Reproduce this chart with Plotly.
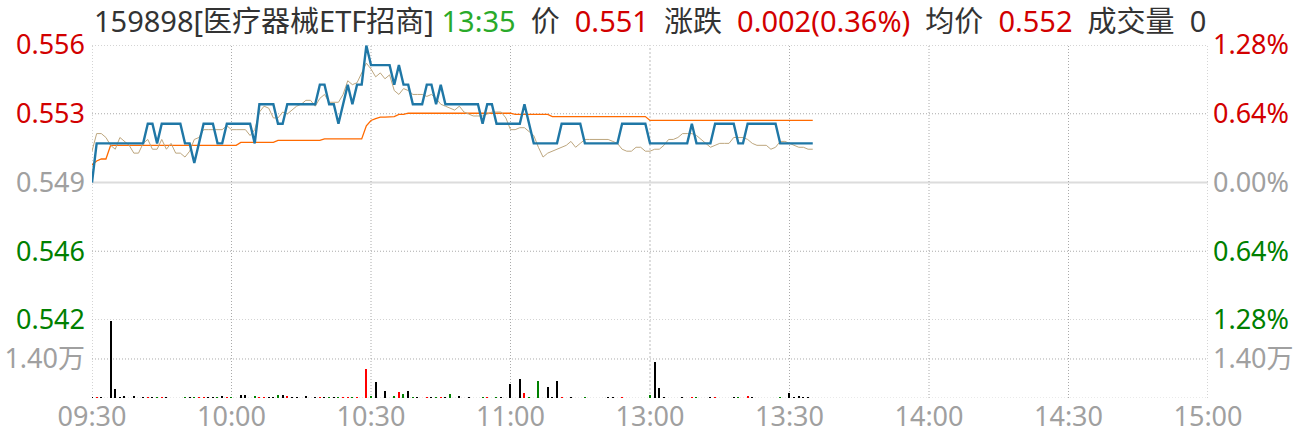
import plotly.graph_objects as go

# ---------------- data ----------------
prev_close = 0.549

time_ticks = [0, 30, 60, 90, 120, 150, 180, 210, 240]
time_labels = ['09:30', '10:00', '10:30', '11:00', '13:00', '13:30', '14:00', '14:30', '15:00']
session_break = 120

price = [
    0.549, 0.551, 0.551, 0.551, 0.551, 0.551, 0.551, 0.551, 0.551, 0.551,
    0.551, 0.551, 0.552, 0.552, 0.551, 0.552, 0.552, 0.552, 0.552, 0.552,
    0.551, 0.551, 0.550, 0.551, 0.552, 0.552, 0.552, 0.551, 0.551, 0.552,
    0.552, 0.552, 0.552, 0.552, 0.552, 0.551, 0.553, 0.553, 0.553, 0.553,
    0.552, 0.552, 0.553, 0.553, 0.553, 0.553, 0.553, 0.553, 0.553, 0.554,
    0.554, 0.553, 0.553, 0.552, 0.553, 0.554, 0.553, 0.554, 0.554, 0.556,
    0.555, 0.555, 0.555, 0.555, 0.555, 0.554, 0.555, 0.554, 0.554, 0.553,
    0.553, 0.553, 0.554, 0.554, 0.553, 0.554, 0.553, 0.553, 0.553, 0.553,
    0.553, 0.553, 0.553, 0.553, 0.552, 0.553, 0.553, 0.552, 0.552, 0.552,
    0.552, 0.552, 0.552, 0.553, 0.552, 0.551, 0.551, 0.551, 0.551, 0.551,
    0.551, 0.552, 0.552, 0.552, 0.552, 0.552, 0.551, 0.551, 0.551, 0.551,
    0.551, 0.551, 0.551, 0.551, 0.552, 0.552, 0.552, 0.552, 0.552, 0.552,
    0.551, 0.551, 0.551, 0.551, 0.551, 0.551, 0.551, 0.551, 0.551, 0.552,
    0.551, 0.551, 0.551, 0.551, 0.552, 0.552, 0.552, 0.552, 0.552, 0.551,
    0.551, 0.552, 0.552, 0.552, 0.552, 0.552, 0.552, 0.552, 0.551, 0.551,
    0.551, 0.551, 0.551, 0.551, 0.551, 0.551,
]

iopv = [
    0.5506, 0.5515, 0.5515, 0.5513, 0.5509, 0.5507, 0.5513, 0.5511, 0.5509, 0.5505,
    0.5505, 0.5510, 0.5512, 0.5507, 0.5507, 0.5512, 0.5507, 0.5510, 0.5505, 0.5505,
    0.5503, 0.5506, 0.5512, 0.5513, 0.5517, 0.5517, 0.5517, 0.5517, 0.5517, 0.5519,
    0.5517, 0.5517, 0.5517, 0.5517, 0.5514, 0.5517, 0.5526, 0.5529, 0.5528, 0.5523,
    0.5523, 0.5526, 0.5525, 0.5527, 0.5529, 0.5530, 0.5532, 0.5532, 0.5529, 0.5533,
    0.5535, 0.5531, 0.5531, 0.5531, 0.5535, 0.5542, 0.5540, 0.5541, 0.5546, 0.5551,
    0.5548, 0.5544, 0.5546, 0.5543, 0.5545, 0.5537, 0.5535, 0.5538, 0.5537, 0.5535,
    0.5535, 0.5535, 0.5534, 0.5535, 0.5533, 0.5530, 0.5529, 0.5528, 0.5527, 0.5529,
    0.5526, 0.5525, 0.5524, 0.5524, 0.5524, 0.5525, 0.5526, 0.5526, 0.5526, 0.5523,
    0.5517, 0.5517, 0.5518, 0.5518, 0.5516, 0.5514, 0.5508, 0.5503, 0.5505, 0.5506,
    0.5507, 0.5508, 0.5509, 0.5511, 0.5508, 0.5510, 0.5512, 0.5512, 0.5512, 0.5512,
    0.5512, 0.5512, 0.5511, 0.5510, 0.5507, 0.5506, 0.5506, 0.5508, 0.5508, 0.5506,
    0.5506, 0.5507, 0.5507, 0.5509, 0.5512, 0.5512, 0.5513, 0.5515, 0.5515, 0.5515,
    0.5514, 0.5512, 0.5510, 0.5508, 0.5509, 0.5510, 0.5510, 0.5510, 0.5513, 0.5513,
    0.5513, 0.5512, 0.5510, 0.5509, 0.5509, 0.5509, 0.5507, 0.5508, 0.5511, 0.5511,
    0.5510, 0.5509, 0.5508, 0.5508, 0.5507, 0.5507,
]

avg_price = [
    0.5499, 0.5501, 0.5502, 0.5502, 0.5509, 0.5509, 0.5509, 0.5509, 0.5509, 0.5509,
    0.5509, 0.5509, 0.5509, 0.5509, 0.5509, 0.5509, 0.5509, 0.5509, 0.5509, 0.5509,
    0.5509, 0.5509, 0.5509, 0.5509, 0.5509, 0.5509, 0.5509, 0.5509, 0.5509, 0.5509,
    0.5509, 0.5509, 0.55105, 0.55105, 0.55105, 0.55105, 0.55105, 0.55105, 0.55105, 0.55105,
    0.55115, 0.55115, 0.55115, 0.55115, 0.55115, 0.55115, 0.55115, 0.55115, 0.55115, 0.55115,
    0.55123, 0.55123, 0.55123, 0.55123, 0.55123, 0.55123, 0.55123, 0.55123, 0.55123, 0.5519,
    0.55217, 0.55226, 0.55234, 0.55234, 0.55234, 0.55237, 0.55248, 0.55248, 0.55254, 0.55254,
    0.55254, 0.55254, 0.55254, 0.55254, 0.55254, 0.55254, 0.55254, 0.55254, 0.55254, 0.55254,
    0.55254, 0.55254, 0.55254, 0.55254, 0.55254, 0.55254, 0.55254, 0.55254, 0.55254, 0.55254,
    0.55254, 0.55248, 0.55248, 0.55248, 0.55248, 0.55248, 0.55248, 0.55248, 0.55248, 0.55237,
    0.55237, 0.55237, 0.55237, 0.55237, 0.55237, 0.55237, 0.55237, 0.55237, 0.55237, 0.55237,
    0.55237, 0.55237, 0.55237, 0.55237, 0.55237, 0.55237, 0.55237, 0.55237, 0.55237, 0.55237,
    0.55217, 0.55217, 0.55217, 0.55217, 0.55217, 0.55217, 0.55217, 0.55217, 0.55217, 0.55217,
    0.55217, 0.55217, 0.55217, 0.55217, 0.55217, 0.55217, 0.55217, 0.55217, 0.55217, 0.55217,
    0.55217, 0.55217, 0.55217, 0.55217, 0.55217, 0.55217, 0.55217, 0.55217, 0.55217, 0.55217,
    0.55217, 0.55217, 0.55217, 0.55217, 0.55217, 0.55217,
]

volume = [
    250, 250, 250, 0, 27700, 3100, 250, 600, 0, 600,
    0, 250, 250, 250, 250, 250, 250, 0, 0, 0,
    250, 250, 250, 250, 250, 250, 250, 250, 600, 250,
    250, 0, 960, 960, 0, 600, 250, 250, 250, 250,
    960, 960, 600, 250, 250, 0, 600, 0, 250, 250,
    250, 250, 250, 250, 250, 250, 250, 250, 0, 10400,
    600, 5700, 0, 2400, 0, 600, 2050, 1330, 2400, 250,
    250, 0, 250, 250, 250, 250, 250, 1330, 0, 600,
    0, 250, 0, 0, 250, 250, 0, 250, 250, 0,
    4900, 0, 6750, 1700, 250, 0, 6000, 0, 3850, 250,
    6000, 250, 0, 250, 0, 0, 250, 0, 0, 0,
    0, 250, 250, 0, 250, 0, 0, 0, 0, 0,
    960, 12900, 3500, 250, 0, 0, 0, 250, 0, 250,
    250, 0, 0, 250, 250, 0, 0, 0, 250, 250,
    0, 720, 250, 0, 0, 0, 0, 0, 250, 0,
    1700, 250, 720, 250, 250, 0,
]

# trade direction per minute: 1 up, -1 down, 0 unchanged
direction = [
    0, 1, 0, 0, 0, 0, 0, 0, 0, 0,
    0, 0, 1, 0, -1, 1, 0, 0, 0, 0,
    -1, 0, -1, 1, 1, 0, 0, -1, 0, 1,
    -1, 0, 0, 0, 0, -1, 1, 1, 0, 0,
    -1, 0, 1, 0, 0, 0, 0, 0, 0, 1,
    0, -1, 0, -1, 1, 1, -1, 1, 0, 1,
    -1, 0, 0, 0, 0, -1, 1, -1, 0, -1,
    0, 0, 1, 0, -1, 1, 0, -1, 0, 0,
    0, 0, 0, 0, -1, 1, 0, -1, 0, 0,
    0, 0, 0, 1, -1, -1, -1, 0, 0, 0,
    0, 1, 0, 0, 0, 0, -1, 0, 0, 0,
    0, 0, 0, 0, 1, 0, 0, 0, 0, 0,
    -1, 0, 0, 0, 0, 0, 0, 0, 0, 1,
    -1, 0, 0, 0, 1, 0, 0, 0, 0, -1,
    0, 1, 0, 0, 0, 0, 0, 0, -1, 0,
    0, 0, 0, 0, 0, 0,
]

pct_levels = [-1.28, -0.64, 0.0, 0.64, 1.28]
left_labels = ['0.542', '0.546', '0.549', '0.553', '0.556']
right_labels = ['1.28%', '0.64%', '0.00%', '0.64%', '1.28%']
vol_max = 28000
vol_ticks = [14000]
vol_labels = ['1.40万']

minutes = list(range(len(price)))

# ---------------- styling ----------------
FONT = 'Noto Sans, Noto Sans CJK SC, sans-serif'
RED = '#d20000'
GREEN = '#008000'
GRAY = '#a0a0a0'
GRID = '#aaaaaa'

def level_color(p):
    return RED if p > 0 else (GREEN if p < 0 else GRAY)

price_ticks = [prev_close * (1 + p / 100) for p in pct_levels]
left_text = ['<span style="color:%s">%s</span>' % (level_color(p), t) for p, t in zip(pct_levels, left_labels)]
right_text = ['<span style="color:%s">%s</span>' % (level_color(p), t) for p, t in zip(pct_levels, right_labels)]
yrange = [prev_close * (1 - pct_levels[-1] / 100), prev_close * (1 + pct_levels[-1] / 100)]

bar_colors = ['#ff0000' if d > 0 else ('#008000' if d < 0 else '#000000') for d in direction]

fig = go.Figure()
fig.add_trace(go.Bar(x=minutes, y=volume, marker=dict(color=bar_colors, line=dict(width=0)),
                     width=0.26, xaxis='x', yaxis='y2', showlegend=False, hoverinfo='skip'))
fig.add_trace(go.Scatter(x=minutes, y=avg_price, mode='lines', line=dict(color='#ff6a00', width=1.3),
                         xaxis='x', yaxis='y', showlegend=False))
fig.add_trace(go.Scatter(x=minutes, y=iopv, mode='lines', line=dict(color='#bda67e', width=1),
                         xaxis='x', yaxis='y', showlegend=False))
fig.add_trace(go.Scatter(x=minutes, y=price, mode='lines', line=dict(color='#1f77a6', width=2.4),
                         xaxis='x', yaxis='y', showlegend=False))
# helpers so that the right-hand axes are drawn
fig.add_trace(go.Scatter(x=[0], y=[prev_close], mode='lines', xaxis='x', yaxis='y3',
                         showlegend=False, hoverinfo='skip', line=dict(width=0)))
fig.add_trace(go.Scatter(x=[0], y=[0], mode='lines', xaxis='x', yaxis='y4',
                         showlegend=False, hoverinfo='skip', line=dict(width=0)))

PDOM = [0.221, 1.0]
VDOM = [0.0, 0.221]
tickfont = dict(family=FONT, size=27, color=GRAY)
common = dict(showgrid=False, zeroline=False, showline=False, ticks='', automargin=False, tickfont=tickfont)

fig.update_layout(
    width=1296, height=434,
    margin=dict(l=92, r=88, t=45, b=36),
    paper_bgcolor='white', plot_bgcolor='white',
    font=dict(family=FONT, size=27, color='#333333'),
    bargap=0,
    xaxis=dict(range=[0, 240], tickvals=time_ticks, ticktext=time_labels, anchor='y2', fixedrange=True, **common),
    yaxis=dict(domain=PDOM, range=yrange, tickvals=price_ticks, ticktext=left_text,
               ticklabelstandoff=6, anchor='x', **common),
    yaxis3=dict(overlaying='y', side='right', range=yrange, tickvals=price_ticks, ticktext=right_text,
                ticklabelstandoff=4, anchor='x', **common),
    yaxis2=dict(domain=VDOM, range=[0, vol_max], tickvals=vol_ticks, ticktext=vol_labels,
                ticklabelstandoff=6, anchor='x', **common),
    yaxis4=dict(overlaying='y2', side='right', range=[0, vol_max], tickvals=vol_ticks, ticktext=vol_labels,
                ticklabelstandoff=4, anchor='x', **common),
)

# grid lines drawn from the tick arrays
dot = dict(color=GRID, width=1, dash='1px,2px')
for t in price_ticks:
    if abs(t - prev_close) < 1e-9:
        fig.add_shape(type='line', xref='x domain', yref='y', x0=0, x1=1, y0=t, y1=t,
                      line=dict(color='#dcdcdc', width=2), layer='below')
    else:
        fig.add_shape(type='line', xref='x domain', yref='y', x0=0, x1=1, y0=t, y1=t, line=dot, layer='below')
for v in vol_ticks:
    fig.add_shape(type='line', xref='x domain', yref='y2', x0=0, x1=1, y0=v, y1=v, line=dot, layer='below')
fig.add_shape(type='line', xref='x domain', yref='y2', x0=0, x1=1, y0=0, y1=0,
              line=dict(color='#d6d6d6', width=1, dash='1px,2px'), layer='below')
for t in time_ticks:
    if t == session_break:
        ln = dict(color='#dddddd', width=2, dash='2px,2px')
    else:
        ln = dot
    fig.add_shape(type='line', xref='x', yref='paper', x0=t, x1=t, y0=0, y1=1, line=ln, layer='below')

NB = '\u00a0'
title = ('<span style="color:#333333">159898[医疗器械ETF招商]</span>' + NB +
         '<span style="color:#2aaa2a">13:35</span>' + NB * 2 + '价' + NB * 2 +
         '<span style="color:%s">0.551</span>' % RED + NB * 2 + '涨跌' + NB * 2 +
         '<span style="color:%s">0.002(0.36%%)</span>' % RED + NB * 2 + '均价' + NB * 2 +
         '<span style="color:%s">0.552</span>' % RED + NB * 2 + '成交量' + NB * 2 + '0')
fig.add_annotation(text=title, xref='paper', yref='paper', x=0, y=1.068, xanchor='left', yanchor='middle',
                   showarrow=False, font=dict(family=FONT, size=29, color='#333333'))

fig.write_html('out.html', config={'displayModeBar': False},
               post_script="document.body.style.margin='0px';document.body.style.overflow='hidden';")
